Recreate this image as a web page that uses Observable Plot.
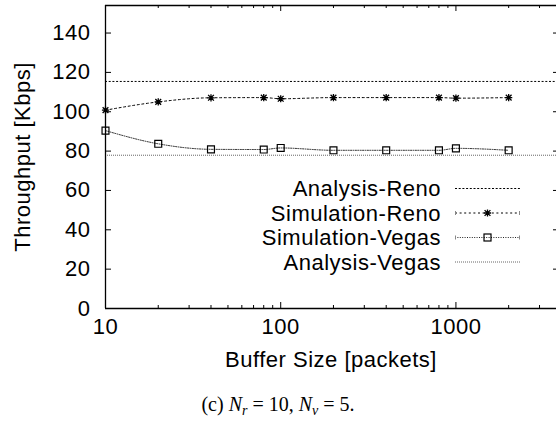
<!DOCTYPE html>
<html><head><meta charset="utf-8">
<script src="https://cdn.jsdelivr.net/npm/d3@7"></script>
<script src="https://cdn.jsdelivr.net/npm/@observablehq/plot@0.6"></script>
<style>
html,body{margin:0;padding:0;background:#fff;}
#wrap{width:556px;height:421px;overflow:hidden;position:relative;background:#fff;}
#cap{position:absolute;left:0;width:556px;top:393px;text-align:center;font-family:"Liberation Serif","Times New Roman",serif;font-size:20px;line-height:22px;}
#cap sub{font-size:14px;vertical-align:-4px;line-height:0;}
#cap .eq{margin:0 5px;}
</style></head><body><div id="wrap"><div id="cap"></div></div><script>
// ---- data ----
const bufferSizes = [10, 20, 40, 80, 100, 200, 400, 800, 1000, 2000];
const simReno  = [100.8, 105.0, 107.1, 107.2, 106.6, 107.2, 107.2, 107.2, 106.9, 107.2];
const simVegas = [90.4, 83.7, 80.9, 80.8, 81.6, 80.4, 80.4, 80.4, 81.4, 80.4];
const analysisReno = 115.4;
const analysisVegas = 77.9;
const xMajorTicks = [10, 100, 1000];
const xMinorTicks = [20,30,40,50,60,70,80,90,200,300,400,500,600,700,800,900,2000,3000];
const yTicks = [0, 20, 40, 60, 80, 100, 120, 140];
const legendLabels = ["Analysis-Reno", "Simulation-Reno", "Simulation-Vegas", "Analysis-Vegas"];
const xLabel = "Buffer Size [packets]";
const yLabel = "Throughput [Kbps]";

const renoRows = bufferSizes.map((x, i) => ({x, y: simReno[i]}));
const vegasRows = bufferSizes.map((x, i) => ({x, y: simVegas[i]}));

const star = {
  draw(ctx, size) {
    const s = Math.sqrt(size / Math.PI);
    const d = s * 0.8;
    ctx.moveTo(-s, 0); ctx.lineTo(s, 0);
    ctx.moveTo(0, -s); ctx.lineTo(0, s);
    ctx.moveTo(-d, -d); ctx.lineTo(d, d);
    ctx.moveTo(-d, d); ctx.lineTo(d, -d);
  }
};

const H = 390;
const styles = {
  aReno: {stroke: "#000", dash: "2,1.7"},
  sReno: {stroke: "#000", dash: "2,2.6"},
  sVegas: {stroke: "#222", dash: "1,1.4"},
  aVegas: {stroke: "#666", dash: "1,1"}
};

const chart = Plot.plot({
  width: 556, height: H,
  marginLeft: 105, marginRight: 0, marginTop: 5, marginBottom: H - 308,
  x: {type: "log", domain: [10, 3750], axis: null},
  y: {domain: [0, 154], axis: null},
  style: {fontFamily: "'Liberation Sans', Arial, sans-serif", fontSize: "22px", letterSpacing: "0.5px", background: "#fff"},
  marks: [
    Plot.ruleY([analysisReno], {stroke: styles.aReno.stroke, strokeDasharray: styles.aReno.dash, strokeWidth: 1}),
    Plot.ruleY([analysisVegas], {stroke: styles.aVegas.stroke, strokeDasharray: styles.aVegas.dash, strokeWidth: 1}),
    Plot.line(renoRows, {x: "x", y: "y", curve: "monotone-x", stroke: styles.sReno.stroke, strokeDasharray: styles.sReno.dash, strokeWidth: 1}),
    Plot.line(vegasRows, {x: "x", y: "y", curve: "monotone-x", stroke: styles.sVegas.stroke, strokeDasharray: styles.sVegas.dash, strokeWidth: 1}),
    Plot.dot(renoRows, {x: "x", y: "y", symbol: star, r: 3.6, stroke: "#000", strokeWidth: 1.3}),
    Plot.dot(vegasRows, {x: "x", y: "y", symbol: "square", r: 3.9, fill: "none", stroke: "#000", strokeWidth: 1.2}),
    // inward ticks
    Plot.ruleX(xMajorTicks, {x: d => d, insetTop: 297, stroke: "#000"}),
    Plot.ruleX(xMajorTicks, {x: d => d, insetBottom: 297, stroke: "#000"}),
    Plot.ruleX(xMinorTicks, {x: d => d, insetTop: 300, stroke: "#000"}),
    Plot.ruleX(xMinorTicks, {x: d => d, insetBottom: 300, stroke: "#000"}),
    Plot.ruleY(yTicks, {y: d => d, insetRight: 445, stroke: "#000"}),
    Plot.ruleY(yTicks, {y: d => d, insetLeft: 448, stroke: "#000"}),
    // border: left, bottom, top (right edge lies just outside the picture)
    Plot.ruleX([10], {stroke: "#000", strokeWidth: 1.3}),
    Plot.ruleY([0, 154], {stroke: "#000", strokeWidth: 1.3}),
    // tick labels
    Plot.text(xMajorTicks, {x: d => d, frameAnchor: "bottom", dy: 25, text: d => String(d), fill: "#000"}),
    Plot.text(yTicks, {y: d => d, frameAnchor: "left", dx: -15, textAnchor: "end", text: d => String(d), fill: "#000"}),
    // axis labels
    Plot.text([xLabel], {frameAnchor: "bottom", dy: 58, text: d => d, fill: "#000"}),
    Plot.text([yLabel], {frameAnchor: "left", dx: -83, rotate: -90, textAnchor: "middle", text: d => d, fill: "#000"})
  ]
});

const wrap = document.getElementById("wrap");
wrap.insertBefore(chart, wrap.firstChild);

// legend (key) drawn inside the plot area
const svg = d3.select(chart);
const g = svg.append("g").attr("font-family", "'Liberation Sans', Arial, sans-serif").attr("font-size", 22).attr("letter-spacing", "0.5px");
const keyStyles = [styles.aReno, styles.sReno, styles.sVegas, styles.aVegas];
legendLabels.forEach((lab, i) => {
  const y = 188.5 + i * 24.5;
  g.append("text").attr("x", 441).attr("y", y).attr("text-anchor", "end").attr("dy", "0.35em").attr("fill", "#000").text(lab);
  const st = keyStyles[i];
  g.append("line").attr("x1", 455).attr("x2", 520).attr("y1", y).attr("y2", y)
    .attr("stroke", st.stroke).attr("stroke-dasharray", st.dash);
  if (i === 1 || i === 2) {
    [455.5, 519.5].forEach(xx => g.append("line").attr("x1", xx).attr("x2", xx).attr("y1", y - 2).attr("y2", y + 2).attr("stroke", "#888"));
  }
  if (i === 1) {
    g.append("path").attr("transform", `translate(487.5,${y})`).attr("stroke", "#000").attr("stroke-width", 1.3).attr("fill", "none")
      .attr("d", "M-3.6,0L3.6,0M0,-3.6L0,3.6M-2.9,-2.9L2.9,2.9M-2.9,2.9L2.9,-2.9");
  }
  if (i === 2) {
    g.append("rect").attr("x", 484).attr("y", y - 3.5).attr("width", 7).attr("height", 7).attr("fill", "none").attr("stroke", "#000").attr("stroke-width", 1.2);
  }
});

document.getElementById("cap").innerHTML = '(c) <i>N</i><sub><i>r</i></sub><span class="eq">=</span>10, <i>N</i><sub><i>v</i></sub><span class="eq">=</span>5.';
</script></body></html>
